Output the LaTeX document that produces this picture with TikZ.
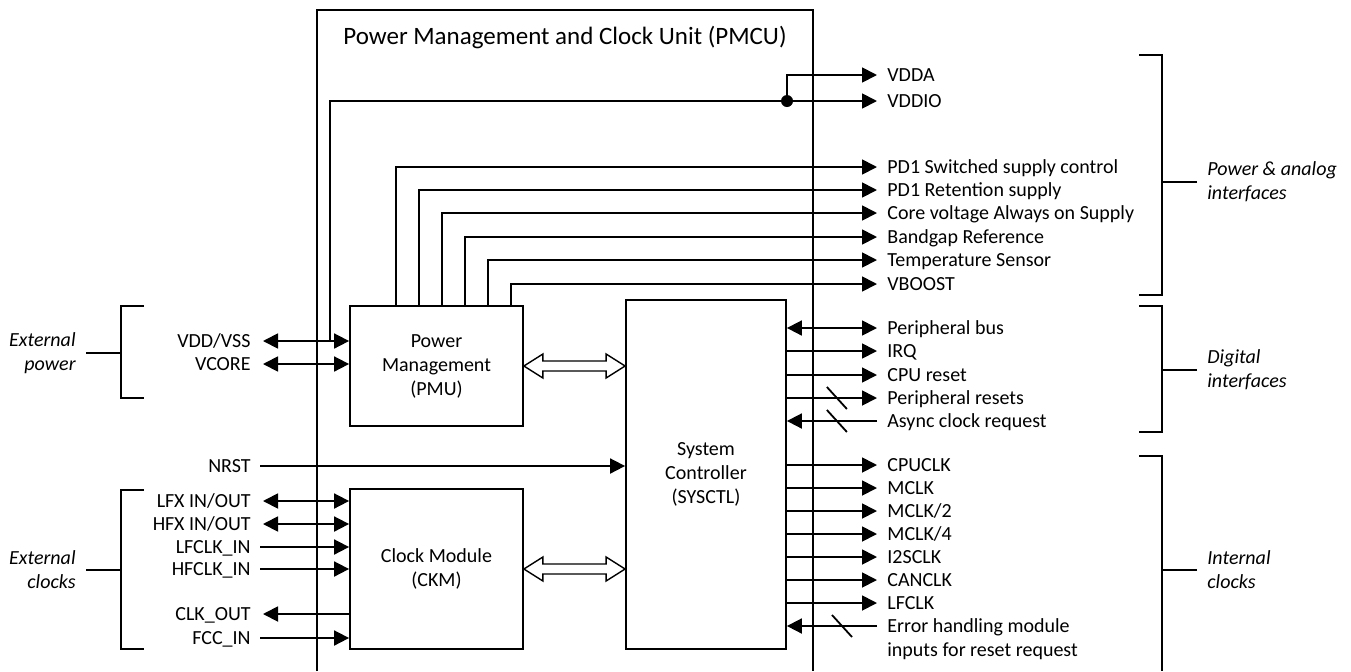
\documentclass[tikz,border=0pt]{standalone}
\usepackage{fontspec}
\setmainfont{Carlito}
\usetikzlibrary{arrows.meta,calc}

% hollow double-headed bus arrow between two points on the same height
\newcommand{\fatarrow}[2]{%
  \draw[fat] (#1) -- ++(19,-12) -- ++(0,7) -- ($(#2)+(-19,-5)$) -- ++(0,-7)
    -- (#2) -- ++(-19,12) -- ++(0,-7) -- ($(#1)+(19,5)$) -- ++(0,7) -- cycle;}

\begin{document}
\begin{tikzpicture}[x=0.5pt,y=-0.5pt,
  every node/.style={font=\fontsize{10}{12}\selectfont},
  box/.style={draw, line width=0.9pt, inner sep=0pt, align=center},
  lbl/.style={inner sep=0pt, text height=6.4pt, text depth=0pt},
  grp/.style={inner sep=0pt, align=#1, font=\fontsize{10}{12}\selectfont\itshape},
  wire/.style={line width=0.9pt},
  arr/.style={wire, -{Triangle[length=7.5pt,width=7.5pt]}},
  darr/.style={wire, {Triangle[length=7.5pt,width=7.5pt]}-{Triangle[length=7.5pt,width=7.5pt]}},
  brk/.style={line width=0.9pt},
  fat/.style={line width=0.7pt, fill=white, line join=miter}
]
\useasboundingbox (0,0) rectangle (1351,671);

% PMCU frame (open towards the bottom)
\draw[wire] (317,671) |- (813,10) -- (813,671);
\node (title) at (565,37) {\fontsize{12.5}{15}\selectfont Power Management and Clock Unit (PMCU)};

% functional blocks
\node[box, minimum width=86.5pt, minimum height=60pt] (pmu) at (436.5,366) {Power\\Management\\(PMU)};
\node[box, minimum width=80pt, minimum height=174.5pt] (sysctl) at (706,474.5) {System\\Controller\\(SYSCTL)};
\node[box, minimum width=86.5pt, minimum height=80pt] (ckm) at (436.5,569) {Clock Module\\(CKM)};

% signal names on the right
\node[lbl, anchor=west] (vdda)   at (887,75)  {VDDA};
\node[lbl, anchor=west] (vddio)  at (887,101) {VDDIO};
\node[lbl, anchor=west] (pdsw)   at (887,167) {PD1 Switched supply control};
\node[lbl, anchor=west] (pdret)  at (887,190) {PD1 Retention supply};
\node[lbl, anchor=west] (core)   at (887,213) {Core voltage Always on Supply};
\node[lbl, anchor=west] (bgap)   at (887,237) {Bandgap Reference};
\node[lbl, anchor=west] (temp)   at (887,260) {Temperature Sensor};
\node[lbl, anchor=west] (vboost) at (887,284) {VBOOST};
\node[lbl, anchor=west] (pbus)   at (887,328) {Peripheral bus};
\node[lbl, anchor=west] (irq)    at (887,351) {IRQ};
\node[lbl, anchor=west] (cpurst) at (887,375) {CPU reset};
\node[lbl, anchor=west] (prst)   at (887,398) {Peripheral resets};
\node[lbl, anchor=west] (async)  at (887,421) {Async clock request};
\node[lbl, anchor=west] (cpuclk) at (887,465) {CPUCLK};
\node[lbl, anchor=west] (mclk)   at (887,488) {MCLK};
\node[lbl, anchor=west] (mclk2)  at (887,511) {MCLK/2};
\node[lbl, anchor=west] (mclk4)  at (887,534) {MCLK/4};
\node[lbl, anchor=west] (i2s)    at (887,557) {I2SCLK};
\node[lbl, anchor=west] (can)    at (887,580) {CANCLK};
\node[lbl, anchor=west] (lfclk)  at (887,603) {LFCLK};
\node[inner sep=0pt, align=left, anchor=west] (err) at (887,639)
  {Error handling module\\inputs for reset request};
\coordinate (errin) at (877,626);

% signal names on the left
\node[lbl, anchor=east] (vdd)    at (251,341) {VDD/VSS};
\node[lbl, anchor=east] (vcore)  at (251,364) {VCORE};
\node[lbl, anchor=east] (nrst)   at (251,466) {NRST};
\node[lbl, anchor=east] (lfx)    at (251,501) {LFX IN/OUT};
\node[lbl, anchor=east] (hfx)    at (251,524) {HFX IN/OUT};
\node[lbl, anchor=east] (lfin)   at (251,547) {LFCLK\_IN};
\node[lbl, anchor=east] (hfin)   at (251,569) {HFCLK\_IN};
\node[lbl, anchor=east] (clkout) at (251,614) {CLK\_OUT};
\node[lbl, anchor=east] (fccin)  at (251,638) {FCC\_IN};

% group labels
\node[grp=right, anchor=east] (extpow) at (76,353) {External\\power};
\node[grp=right, anchor=east] (extclk) at (76,570) {External\\clocks};
\node[grp=left, anchor=west] (pwr)  at (1207,182) {Power \& analog\\interfaces};
\node[grp=left, anchor=west] (dig)  at (1207,370) {Digital\\interfaces};
\node[grp=left, anchor=west] (intc) at (1207,570) {Internal\\clocks};

% external power and clock pins
\draw[darr] ([xshift=6pt]vdd.east)   -- (pmu.west |- vdd);
\draw[darr] ([xshift=6pt]vcore.east) -- (pmu.west |- vcore);
\draw[arr]  ([xshift=4.5pt]nrst.east) -- (sysctl.west |- nrst);
\draw[darr] ([xshift=6pt]lfx.east)   -- (ckm.west |- lfx);
\draw[darr] ([xshift=6pt]hfx.east)   -- (ckm.west |- hfx);
\draw[arr]  ([xshift=4.5pt]lfin.east) -- (ckm.west |- lfin);
\draw[arr]  ([xshift=4.5pt]hfin.east) -- (ckm.west |- hfin);
\draw[arr]  (ckm.west |- clkout) -- ([xshift=6pt]clkout.east);
\draw[arr]  ([xshift=4.5pt]fccin.east) -- (ckm.west |- fccin);

% I/O supply rails taken from the VDD/VSS pin
\coordinate (tap) at (330,0);
\coordinate (jn) at (787,0);
\draw[arr] (tap |- vdd) |- ([xshift=-5pt]vddio.west);
\draw[arr] (jn |- vddio) |- ([xshift=-5pt]vdda.west);
\fill (jn |- vddio) circle[radius=3pt];

% PMU analog outputs
\foreach \n [count=\i from 0] in {pdsw,pdret,core,bgap,temp,vboost}
  \draw[arr] ($(pmu.north west)+({47+23*\i},0)$) |- ([xshift=-5pt]\n.west);

% SYSCTL digital interfaces and clocks
\draw[darr] (sysctl.east |- pbus) -- ([xshift=-5pt]pbus.west);
\foreach \n in {irq,cpurst,prst,cpuclk,mclk,mclk2,mclk4,i2s,can,lfclk}
  \draw[arr] (sysctl.east |- \n) -- ([xshift=-5pt]\n.west);
\draw[arr] ([xshift=-5pt]async.west) -- (sysctl.east |- async);
\draw[arr] (errin) -- (sysctl.east |- errin);

% bus-width marks
\foreach \n in {prst,async}
  \draw[wire] ($(sysctl.east |- \n)+(40,-11)$) -- ++(20,22);
\draw[wire] ($(errin)+(-45,-11)$) -- ++(20,22);

% internal buses between the blocks
\coordinate (pa) at (sysctl.west |- pmu.east);
\coordinate (ca) at (sysctl.west |- ckm.east);
\fatarrow{pmu.east}{pa}
\fatarrow{ckm.east}{ca}

% brackets grouping the pins
\draw[brk] (144,306) -| (121,398) -- (144,398);
\draw[brk] ([xshift=5pt]extpow.east) -- (121,0 |- extpow.east);
\draw[brk] (144,490) -| (121,649) -- (144,649);
\draw[brk] ([xshift=5pt]extclk.east) -- (121,0 |- extclk.east);
\draw[brk] (1139,55) -| (1162,295) -- (1139,295);
\draw[brk] ([xshift=-5pt]pwr.west) -- (1162,0 |- pwr.west);
\draw[brk] (1139,306) -| (1162,432) -- (1139,432);
\draw[brk] ([xshift=-5pt]dig.west) -- (1162,0 |- dig.west);
\draw[brk] (1139,456) -| (1162,671);
\draw[brk] ([xshift=-5pt]intc.west) -- (1162,0 |- intc.west);
\end{tikzpicture}
\end{document}
